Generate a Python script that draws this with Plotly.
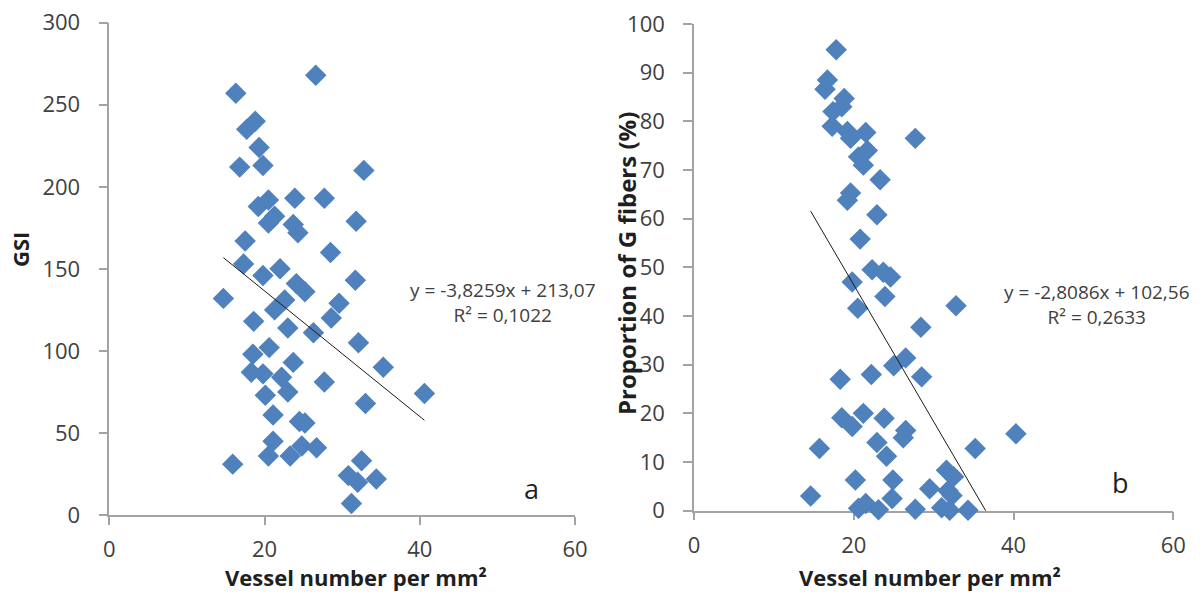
import plotly.graph_objects as go

# ---- data: panel a (GSI vs vessel number) ----
gsi_x = [14.7, 15.9, 16.3, 16.8, 17.3, 17.5, 17.7, 18.8, 18.3, 18.5, 18.6, 19.2, 19.3, 19.8, 19.8,
         19.8, 20.1, 20.5, 20.5, 20.5, 20.6, 21.1, 21.1, 21.3, 21.3, 22.0, 22.2, 22.6, 23.0, 23.0,
         23.3, 23.7, 23.7, 23.9, 24.1, 24.3, 24.5, 24.8, 25.2, 25.2, 26.3, 26.6, 26.7, 27.7, 27.7,
         28.5, 28.6, 29.6, 30.8, 31.2, 31.7, 31.8, 32.1, 32.5, 32.0, 34.4, 32.8, 33.0, 35.3, 40.6]
gsi_y = [132, 31, 257, 212, 153, 167, 235, 240, 87, 98, 118, 188, 224, 213, 146,
         86, 73, 192, 178, 36, 102, 61, 45, 182, 125, 150, 84, 131, 114, 75,
         36, 177, 93, 193, 141, 172, 57, 42, 136, 56, 111, 268, 41, 193, 81,
         160, 120, 129, 24, 7, 143, 179, 105, 33, 20, 22, 210, 68, 90, 74]
gsi_fit = {"slope": -3.8259, "intercept": 213.07}

# ---- data: panel b (proportion of G fibers vs vessel number) ----
gf_x = [14.6, 15.7, 16.4, 16.7, 17.3, 17.4, 17.8, 18.3, 18.5, 18.8, 18.5, 19.2, 19.2, 19.6, 19.6,
        19.8, 19.8, 20.2, 20.5, 20.6, 20.6, 20.8, 21.2, 21.2, 21.5, 21.5, 21.7, 22.2, 22.3, 22.9,
        22.9, 23.1, 23.3, 23.7, 23.8, 23.9, 24.1, 24.6, 24.8, 24.9, 25.0, 26.2, 26.5, 26.5, 27.7,
        27.7, 28.4, 28.5, 29.5, 31.6, 32.5, 31.8, 32.3, 31.0, 32.0, 34.3, 32.8, 35.2, 40.3]
gf_y = [3, 12.8, 86.6, 88.5, 79, 82, 94.7, 27, 83, 84.7, 19.1, 77.9, 63.8, 65.3, 76.5,
        47, 17.3, 6.3, 41.6, 72.7, 0.5, 55.8, 20, 71, 77.7, 1.5, 74, 28, 49.5, 60.8,
        14, 0.2, 68, 49, 19, 44, 11.2, 48, 2.5, 6.3, 29.8, 15, 16.5, 31.4, 76.5,
        0.3, 37.7, 27.5, 4.5, 8.3, 7, 4.1, 3.1, 0.6, 0.1, 0.1, 42.1, 12.8, 15.8]
gf_fit = {"slope": -2.8086, "intercept": 102.56}

x_ticks = [0, 20, 40, 60]
gsi_ticks = [0, 50, 100, 150, 200, 250, 300]
gf_ticks = [0, 10, 20, 30, 40, 50, 60, 70, 80, 90, 100]

W, H = 1201, 592
BLUE = "#4F81BD"
AX = "#a3a3a3"
TICKFONT = dict(family="Open Sans", size=22, color="#404040")


def px(x):
    return x / W


def py(y):
    return 1 - y / H


fig = go.Figure()

for xs, ys, fit, xa, ya in [(gsi_x, gsi_y, gsi_fit, "x", "y"), (gf_x, gf_y, gf_fit, "x2", "y2")]:
    fig.add_trace(go.Scatter(x=xs, y=ys, mode="markers", xaxis=xa, yaxis=ya, cliponaxis=False,
                             marker=dict(symbol="diamond", size=16.5, color=BLUE, line=dict(width=0))))
    lx = [min(xs), max(xs)]
    ly = [fit["slope"] * v + fit["intercept"] for v in lx]
    fig.add_trace(go.Scatter(x=lx, y=ly, mode="lines", xaxis=xa, yaxis=ya,
                             line=dict(color="#1a1a1a", width=1)))

common_x = dict(range=[0, 60], tickvals=x_ticks, showgrid=False, zeroline=False, showline=True,
                linecolor=AX, linewidth=1.5, ticks="outside", ticklen=8, tickcolor=AX, tickwidth=1.5,
                tickfont=TICKFONT, ticklabelstandoff=6, layer="below traces", fixedrange=True,
                automargin=False)
common_y = dict(showgrid=False, zeroline=False, showline=True, linecolor=AX, linewidth=1.5,
                ticks="outside", ticklen=9, tickcolor=AX, tickwidth=1.5, tickfont=TICKFONT,
                ticklabelstandoff=14, layer="below traces", fixedrange=True, automargin=False)

fig.update_layout(
    width=W, height=H, autosize=False, showlegend=False,
    margin=dict(l=0, r=0, t=0, b=0, autoexpand=False),
    paper_bgcolor="white", plot_bgcolor="white",
    xaxis=dict(domain=[px(109.3), px(575)], anchor="y", **common_x),
    yaxis=dict(domain=[py(515), py(22.7)], anchor="x", range=[0, 300], tickvals=gsi_ticks, **common_y),
    xaxis2=dict(domain=[px(694), px(1173.3)], anchor="y2", **common_x),
    yaxis2=dict(domain=[py(510.7), py(24)], anchor="x2", range=[0, 100], tickvals=gf_ticks, **common_y),
)

TITLEFONT = dict(family="Open Sans", size=22, color="#1f1f1f")
EQFONT = dict(family="Open Sans", size=19, color="#404040")


def note(text, x, y, font, angle=0):
    fig.add_annotation(text=text, x=px(x), y=py(y), xref="paper", yref="paper",
                       showarrow=False, xanchor="center", yanchor="middle", textangle=angle, font=font)


note("<b>GSI</b>", 20, 250, TITLEFONT, -90)
note("<b>Vessel number per mm²</b>", 356, 577, TITLEFONT)
note("<b>Vessel number per mm²</b>", 930, 577, TITLEFONT)
note("<b>Proportion of G fibers (%)</b>", 626, 264, dict(family="Open Sans", size=24, color="#1f1f1f"), -90)

note("y = -3,8259x + 213,07<br>R² = 0,1022", 503, 302, EQFONT)
note("y = -2,8086x + 102,56<br>R² = 0,2633", 1097, 304, EQFONT)

note("a", 531, 488, dict(family="Open Sans", size=27, color="#1f1f1f"))
note("b", 1120, 482, dict(family="Open Sans", size=27, color="#1f1f1f"))

fig.write_html("out.html", config={"displayModeBar": False})

# remove the browser's default page margin so the figure sits at the window origin
with open("out.html", "r", encoding="utf-8") as f:
    html = f.read()
html = html.replace("<head>", "<head><style>html,body{margin:0;padding:0;overflow:hidden;}</style>", 1)
with open("out.html", "w", encoding="utf-8") as f:
    f.write(html)
